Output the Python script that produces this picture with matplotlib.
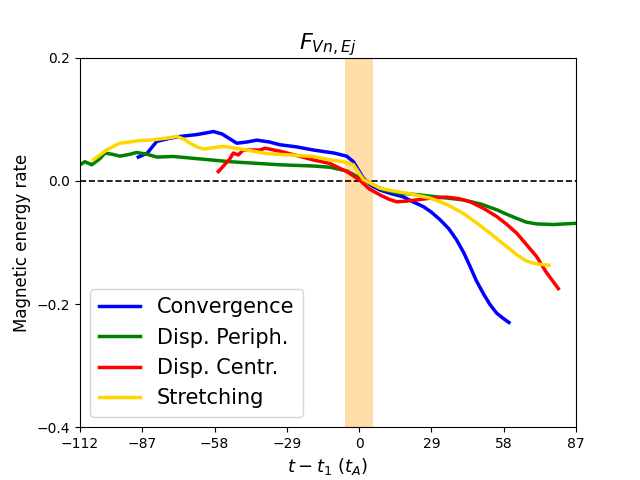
import numpy as np
import matplotlib
matplotlib.use('Agg')
import matplotlib.pyplot as plt

# values
conv_t = [-88.6, -85, -81.2, -76, -71.9, -65.2, -61, -58.5, -55, -49.1, -45, -41.1, -36, -31.8, -25, -18.4,
          -10, -5, -2.3, 1.7, 5, 8.4, 13, 17.7, 21, 25.8, 29, 32.4, 36, 39.1, 42, 44.5, 47, 49.8, 52.5, 55.2, 58, 60.1]
conv_v = [0.0385, 0.045, 0.064, 0.069, 0.072, 0.075, 0.078, 0.080, 0.076, 0.061, 0.063, 0.066, 0.063, 0.0585,
          0.055, 0.050, 0.045, 0.040, 0.031, 0.004, -0.008, -0.015, -0.021, -0.026, -0.033, -0.042, -0.051, -0.063,
          -0.078, -0.096, -0.117, -0.139, -0.162, -0.183, -0.201, -0.215, -0.224, -0.230]

per_t = [-112, -110, -107.3, -104, -102, -99, -96, -92, -89.3, -85, -81.2, -74.6, -65.2, -51.8, -31.8, -18.4,
         -11.7, -5, 1.6, 9.7, 16, 24.4, 33, 41.8, 49, 55.2, 59, 63.2, 67, 71.2, 78, 87]
per_v = [0.026, 0.031, 0.026, 0.036, 0.045, 0.043, 0.040, 0.043, 0.046, 0.043, 0.0385, 0.0395, 0.036, 0.031,
         0.026, 0.024, 0.022, 0.016, 0.0016, -0.0146, -0.020, -0.023, -0.027, -0.031, -0.038, -0.047, -0.054,
         -0.061, -0.067, -0.070, -0.071, -0.069]

cen_t = [-56.5, -52, -50.5, -48.5, -46.5, -42, -39.8, -37.8, -31.8, -25, -18.5, -11.7, -5, 0.3, 4, 8.4, 12,
         15, 19, 23.1, 29, 35.1, 40, 44.5, 50, 55.2, 59, 63.2, 67, 71.2, 75, 79.9]
cen_v = [0.015, 0.035, 0.045, 0.042, 0.050, 0.050, 0.050, 0.053, 0.048, 0.041, 0.034, 0.028, 0.015, 0.001,
         -0.013, -0.023, -0.030, -0.034, -0.033, -0.031, -0.028, -0.0265, -0.029, -0.034, -0.045, -0.058,
         -0.070, -0.085, -0.103, -0.123, -0.148, -0.175]

str_t = [-106.6, -104, -101.3, -98, -96, -92, -88, -84, -79.9, -76, -73.2, -70, -67.9, -65, -62.5, -58, -54.5,
         -45.1, -37.1, -28, -18.4, -11.7, -6.4, -2.3, 1.7, 8.4, 13, 19, 28.4, 35, 41.8, 47, 52.5, 58, 63.2,
         67, 71.2, 76.2]
str_v = [0.034, 0.042, 0.050, 0.057, 0.061, 0.063, 0.0655, 0.066, 0.068, 0.070, 0.072, 0.067, 0.061, 0.055,
         0.0515, 0.054, 0.056, 0.050, 0.044, 0.042, 0.0395, 0.034, 0.031, 0.026, 0.002, -0.012, -0.016, -0.020,
         -0.028, -0.038, -0.053, -0.068, -0.085, -0.103, -0.120, -0.130, -0.135, -0.137]

band = [-5.5, 5.5]
xticks = [-112, -87, -58, -29, 0, 29, 58, 87]
yticks = [-0.4, -0.2, 0.0, 0.2]

fig, ax = plt.subplots(figsize=(6.4, 4.8), dpi=100)

ax.axvspan(band[0], band[1], color='#ffdca8', lw=0)
ax.axhline(0, color='k', ls='--', lw=1.2)

ax.plot(conv_t, conv_v, color='blue', lw=2.5, label='Convergence')
ax.plot(per_t, per_v, color='green', lw=2.5, label='Disp. Periph.')
ax.plot(cen_t, cen_v, color='red', lw=2.5, label='Disp. Centr.')
ax.plot(str_t, str_v, color='gold', lw=2.5, label='Stretching')

ax.set_xlim(-112, 87)
ax.set_ylim(-0.4, 0.2)
ax.set_xticks(xticks)
ax.set_yticks(yticks)
ax.set_title(r'$F_{Vn,Ej}$', fontsize=16)
ax.set_xlabel(r'$t - t_1\ (t_A)$', fontsize=13)
ax.set_ylabel('Magnetic energy rate', fontsize=12)
ax.legend(loc='lower left', fontsize=15)

plt.savefig('out.png')
